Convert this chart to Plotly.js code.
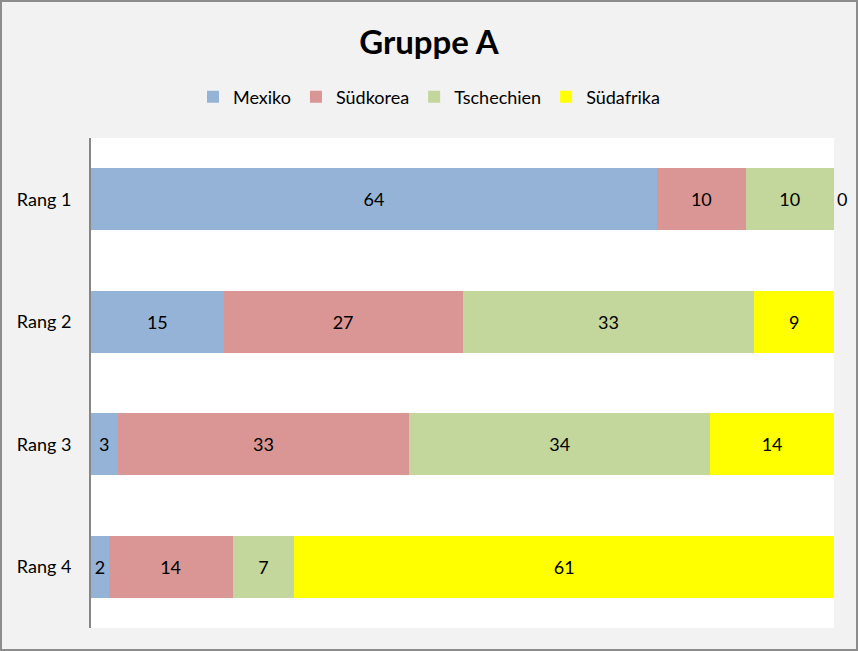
<!DOCTYPE html>
<html>
<head>
<meta charset="utf-8">
<script src="https://cdn.plot.ly/plotly-3.0.1.min.js"></script>
<style>
  html, body { margin: 0; padding: 0; background: #f2f2f2; }
  #chart { width: 854px; height: 647px; border: 2px solid #8c8c8c; }
</style>
</head>
<body>
<div id="chart"></div>
<script>
// Ranks (rows) and teams (stacked series)
const ranks = ['Rang 1', 'Rang 2', 'Rang 3', 'Rang 4'];
const mexiko = [64, 15, 3, 2];
const suedkorea = [10, 27, 33, 14];
const tschechien = [10, 33, 34, 7];
const suedafrika = [0, 9, 14, 61];

const series = [
  { name: 'Mexiko', values: mexiko, color: '#95b3d7' },
  { name: 'Südkorea', values: suedkorea, color: '#d99694' },
  { name: 'Tschechien', values: tschechien, color: '#c3d69b' },
  { name: 'Südafrika', values: suedafrika, color: '#ffff00' }
];

const total = mexiko[0] + suedkorea[0] + tschechien[0] + suedafrika[0];

const data = series.map((s) => ({
  type: 'bar',
  orientation: 'h',
  name: s.name,
  y: ranks,
  x: s.values,
  marker: { color: s.color },
  text: s.values.map(String),
  // a zero-width segment can only show its label outside the bar
  textposition: s.values.map((v) => (v === 0 ? 'outside' : 'inside')),
  insidetextanchor: 'middle',
  textfont: { color: '#000', size: 18 },
  insidetextfont: { color: '#000', size: 18 },
  outsidetextfont: { color: '#000', size: 18 },
  constraintext: 'none',
  cliponaxis: false,
  hoverinfo: 'name+x'
}));

const layout = {
  barmode: 'stack',
  bargap: 0.49,
  width: 854,
  height: 647,
  margin: { l: 89, r: 22, t: 136, b: 21 },
  paper_bgcolor: '#f2f2f2',
  plot_bgcolor: '#ffffff',
  font: { family: 'Lato, "Open Sans", sans-serif', size: 18, color: '#000' },
  title: {
    text: '<b>Gruppe A</b>',
    font: { size: 33, color: '#000' },
    x: 0.5,
    xanchor: 'center',
    y: 0.938,
    yanchor: 'middle'
  },
  legend: {
    orientation: 'h',
    xref: 'container',
    yref: 'container',
    x: 0.5,
    xanchor: 'center',
    y: 0.853,
    yanchor: 'middle',
    font: { size: 18 },
    traceorder: 'normal',
    itemclick: false
  },
  xaxis: {
    range: [0, total],
    showgrid: false,
    zeroline: false,
    showticklabels: false,
    showline: false,
    fixedrange: true
  },
  yaxis: {
    autorange: 'reversed',
    showgrid: false,
    zeroline: false,
    showline: true,
    linecolor: '#868686',
    linewidth: 2,
    ticks: '',
    ticklabelstandoff: 14,
    fixedrange: true
  },
  showlegend: true
};

Plotly.newPlot('chart', data, layout, { displayModeBar: false, staticPlot: true });
</script>
</body>
</html>
